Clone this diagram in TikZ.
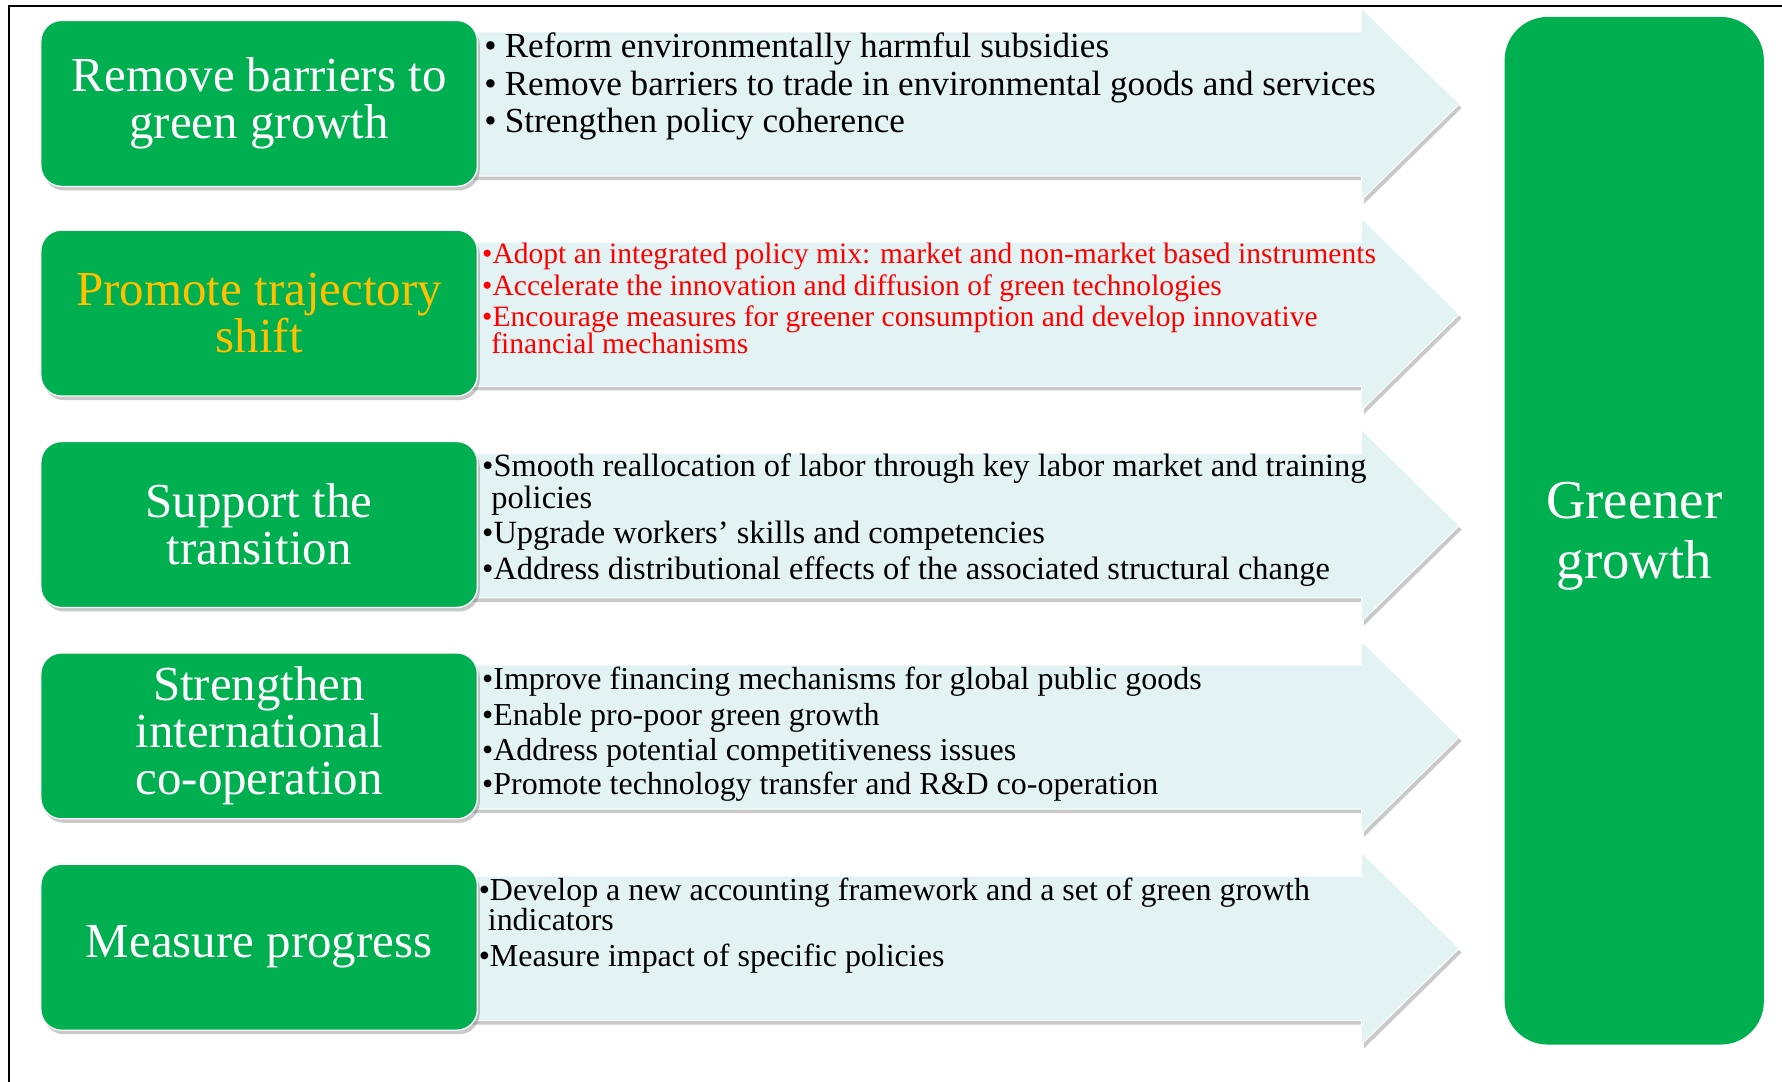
\documentclass[tikz,border=0pt]{standalone}
\usepackage{fontspec}
\setmainfont{Liberation Serif}
\usetikzlibrary{shadows}
\definecolor{ggreen}{HTML}{00B050}
\definecolor{ggold}{HTML}{FFC000}
\definecolor{acyan}{HTML}{E3F3F4}
\definecolor{tred}{HTML}{FF0000}
\tikzset{
  greenbox/.style={fill=ggreen, draw=white, line width=0.8pt, rounded corners=13pt,
    minimum width=9.6cm, minimum height=3.65cm, inner sep=0pt, align=center,
    text=white, font=\fontsize{30.6}{29.2}\selectfont,
    drop shadow={shadow xshift=1.5pt, shadow yshift=-2.5pt, opacity=0.35, fill=black!60}},
  arrowshape/.style={fill=acyan, draw=white, line width=0.6pt,
    drop shadow={shadow xshift=1.5pt, shadow yshift=-2.5pt, opacity=0.35, fill=black!60}},
  lineA/.style={anchor=base west, inner sep=0pt, font=\fontsize{22}{26}\selectfont},
  lineB/.style={anchor=base west, inner sep=0pt, text=tred, font=\fontsize{18.5}{22}\selectfont},
  lineC/.style={anchor=base west, inner sep=0pt, font=\fontsize{20.3}{24}\selectfont},
  lineD/.style={anchor=base west, inner sep=0pt, font=\fontsize{20}{24}\selectfont},
  bigbox/.style={fill=ggreen, draw=none, rounded corners=27pt, minimum width=5.7cm,
    minimum height=22.6cm, inner sep=0pt, align=center, text=white,
    font=\fontsize{34.3}{37.5}\selectfont},
}
\begin{document}
\begin{tikzpicture}[x=0.025cm,y=-0.025cm]
\useasboundingbox (0,0) rectangle (1568,952);
\fill[white] (0,0) rectangle (1568,952);
\draw[line width=1.2pt] (8,952) -- (8,5) -- (1568,5);

% arrows
\foreach \o in {0,185,371,557,743}{
  \path[arrowshape] (400,28+\o) -- (1198,28+\o) -- (1198,7+\o) -- (1284,91.5+\o)
     -- (1198,176+\o) -- (1198,155+\o) -- (400,155+\o) -- cycle;
}

% left boxes
\node[greenbox] (b1) at (228,91) {Remove barriers to\\green growth};
\node[greenbox, text=ggold] (b2) at (228,275.5) {Promote trajectory\\shift};
\node[greenbox] (b3) at (228,461.5) {Support the\\transition};
\node[greenbox] (b4) at (228,647.5) {Strengthen\\international\\co-operation};
\node[greenbox] (b5) at (228,833.5) {Measure progress};

% right box
\node[bigbox] (gg) at (1438,467) {};
\node[anchor=center, align=center, text=white, inner sep=0pt,
  font=\fontsize{34.3}{37.5}\selectfont] (ggt) at (1438,472) {Greener\\growth};

% row 1
\node[lineA] (r1a) at (426,51) {•\hspace{5pt}Reform environmentally harmful subsidies};
\node[lineA] (r1b) at (426,84) {•\hspace{5pt}Remove barriers to trade in environmental goods and services};
\node[lineA] (r1c) at (426,117) {•\hspace{5pt}Strengthen policy coherence};

% row 2
\node[lineB] (r2a) at (424,232) {•Adopt an integrated policy mix: market and non-market based instruments};
\node[lineB] (r2b) at (424,260) {•Accelerate the innovation and diffusion of green technologies};
\node[lineB] (r2c) at (424,287) {•Encourage measures for greener consumption and develop innovative};
\node[lineB] (r2d) at (432,311) {financial mechanisms};

% row 3
\node[lineC] (r3a) at (424,419) {•Smooth reallocation of labor through key labor market and training};
\node[lineC] (r3b) at (432,447) {policies};
\node[lineC] (r3c) at (424,478) {•Upgrade workers' skills and competencies};
\node[lineC] (r3d) at (424,510) {•Address distributional effects of the associated structural change};

% row 4
\node[lineD] (r4a) at (424,607) {•Improve financing mechanisms for global public goods};
\node[lineD] (r4b) at (424,638) {•Enable pro-poor green growth};
\node[lineD] (r4c) at (424,669) {•Address potential competitiveness issues};
\node[lineD] (r4d) at (424,699) {•Promote technology transfer and R\&D co-operation};

% row 5
\node[lineD] (r5a) at (421,792) {•Develop a new accounting framework and a set of green growth};
\node[lineD] (r5b) at (429,819) {indicators};
\node[lineD] (r5c) at (421,850) {•Measure impact of specific policies};
\end{tikzpicture}
\end{document}
